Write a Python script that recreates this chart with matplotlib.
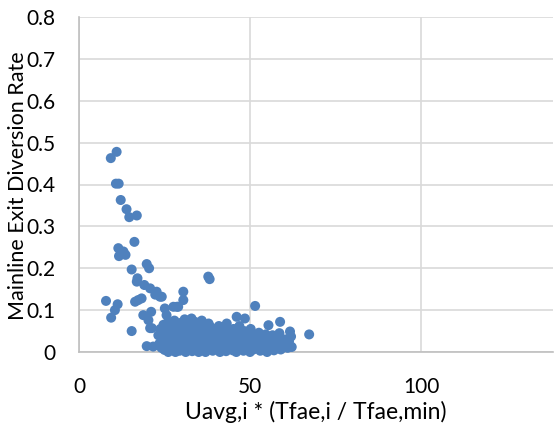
import matplotlib
matplotlib.use("Agg")
import matplotlib.pyplot as plt

# Scattered points
outlier_x = [7.9, 9.3, 11.0, 10.8, 11.6, 12.2, 13.9, 14.7, 16.9, 16.2, 11.5, 13.0, 11.7, 13.6,
             15.4, 19.8, 20.5, 17.1, 16.9, 19.1, 20.8, 22.7, 24.2, 22.3, 17.3, 16.4, 18.3, 11.3,
             10.5, 9.4, 15.4, 18.8, 21.1, 20.3, 20.8, 19.8, 21.7, 25.1, 28.6, 27.6, 30.5, 30.5,
             29.0, 23.7, 25.6, 37.8, 38.2, 51.5, 46.1, 48.5, 43.2, 58.8, 55.4, 61.7, 62.0, 67.3,
             21.3]
outlier_y = [0.122, 0.463, 0.478, 0.402, 0.402, 0.363, 0.341, 0.322, 0.326, 0.263, 0.248, 0.240,
             0.229, 0.232, 0.197, 0.210, 0.200, 0.176, 0.168, 0.160, 0.152, 0.144, 0.132, 0.137,
             0.124, 0.120, 0.128, 0.114, 0.100, 0.082, 0.050, 0.088, 0.096, 0.076, 0.057, 0.014,
             0.013, 0.104, 0.108, 0.108, 0.144, 0.124, 0.108, 0.132, 0.088, 0.180, 0.174, 0.110,
             0.084, 0.080, 0.068, 0.072, 0.064, 0.049, 0.037, 0.042, 0.057]

# Dense cluster near zero
cluster_x = [23.2, 23.5, 23.8, 24.1, 24.4, 24.7, 25.0, 25.3, 25.6, 25.9, 26.2, 26.5, 26.8, 26.1,
             27.0, 27.3, 27.6, 27.9, 28.2, 28.5, 28.8, 28.1, 29.0, 29.3, 29.6, 29.9, 29.4,
             30.1, 30.4, 30.7, 30.2, 30.9, 31.2, 31.5, 31.8, 31.1, 31.6, 32.0, 32.3, 32.6, 32.2, 32.9,
             33.1, 33.4, 33.7, 33.2, 33.9, 34.2, 34.5, 34.8, 34.3, 35.0, 35.3, 35.6, 35.2, 35.9,
             36.1, 36.4, 36.7, 36.3, 37.0, 37.3, 37.6, 37.2, 37.9, 38.2, 38.5, 38.8, 38.4,
             39.1, 39.4, 39.7, 39.2, 40.0, 40.3, 40.6, 40.9, 41.2, 41.5, 41.1, 41.8,
             42.1, 42.4, 42.7, 42.3, 43.0, 43.3, 43.6, 43.2, 44.1, 44.4, 44.7,
             45.0, 45.3, 45.6, 45.2, 46.0, 46.3, 46.6, 46.2, 46.9, 47.2, 47.5, 47.8,
             48.1, 48.4, 48.7, 48.3, 49.1, 49.4, 49.7, 50.0, 50.3, 50.6, 50.2,
             51.0, 51.3, 51.6, 52.0, 52.3, 52.6, 53.0, 53.3, 53.6, 54.0, 54.3, 54.6,
             55.0, 55.3, 55.6, 56.0, 56.3, 56.6, 57.0, 57.3, 57.6, 58.0, 58.3, 58.6,
             59.0, 59.4, 60.0, 60.4, 61.0, 61.4, 62.2]
cluster_y = [0.040, 0.020, 0.055, 0.010, 0.030, 0.065, 0.005, 0.025, 0.045, 0.070, 0.015, 0.035,
             0.060, 0.000, 0.008, 0.028, 0.050, 0.075, 0.000, 0.020, 0.040, 0.065, 0.012, 0.032,
             0.055, 0.070, 0.003, 0.005, 0.022, 0.045, 0.060, 0.078, 0.000, 0.015, 0.035, 0.050,
             0.068, 0.008, 0.025, 0.042, 0.062, 0.080, 0.002, 0.018, 0.038, 0.055, 0.072, 0.010,
             0.030, 0.048, 0.065, 0.000, 0.020, 0.040, 0.058, 0.075, 0.006, 0.026, 0.044, 0.062,
             0.000, 0.015, 0.035, 0.052, 0.068, 0.008, 0.028, 0.046, 0.060, 0.003, 0.020, 0.038,
             0.055, 0.010, 0.030, 0.045, 0.062, 0.000, 0.018, 0.036, 0.050, 0.007, 0.025, 0.042,
             0.058, 0.002, 0.020, 0.035, 0.050, 0.012, 0.030, 0.045, 0.004, 0.022, 0.040, 0.055,
             0.000, 0.015, 0.032, 0.048, 0.062, 0.008, 0.025, 0.040, 0.003, 0.018, 0.035, 0.050,
             0.010, 0.028, 0.044, 0.000, 0.020, 0.038, 0.055, 0.006, 0.024, 0.040, 0.012, 0.030,
             0.046, 0.003, 0.020, 0.035, 0.008, 0.026, 0.042, 0.000, 0.015, 0.032, 0.010, 0.025,
             0.040, 0.004, 0.020, 0.035, 0.012, 0.028, 0.045, 0.006, 0.022, 0.015, 0.030, 0.010,
             0.025, 0.012]

x_ticks = [0, 50, 100]
y_ticks = [0, 0.1, 0.2, 0.3, 0.4, 0.5, 0.6, 0.7, 0.8]
y_tick_labels = ["0", "0.1", "0.2", "0.3", "0.4", "0.5", "0.6", "0.7", "0.8"]
x_label = "Uavg,i * (Tfae,i / Tfae,min)"
y_label = "Mainline Exit Diversion Rate"

plt.rcParams['font.family'] = ['Lato', 'DejaVu Sans']

W, H = 554, 428
fig = plt.figure(figsize=(W / 100, H / 100), dpi=100)
ax = fig.add_axes([79 / W, (H - 352) / H, (553 - 79) / W, (352 - 17) / H])

color = "#4F81BD"
ax.scatter(outlier_x + cluster_x, outlier_y + cluster_y, s=52, color=color,
           edgecolors="none", zorder=3, clip_on=False)

ax.set_xlim(0, 138.6)
ax.set_ylim(0, 0.8)
ax.set_xticks(x_ticks)
ax.set_yticks(y_ticks)
ax.set_yticklabels(y_tick_labels)
ax.grid(True, color="#D9D9D9", linewidth=1.2, zorder=0)
ax.set_axisbelow(True)
for s in ["top", "right"]:
    ax.spines[s].set_visible(False)
for s in ["left", "bottom"]:
    ax.spines[s].set_color("#BFBFBF")
    ax.spines[s].set_linewidth(1.2)
ax.tick_params(length=0, labelsize=15, colors="#000000", pad=17)
ax.tick_params(axis='x', pad=18)

fig.text((79 + 553) / 2 / W, 1 - 412 / H, x_label, ha="center", va="center", fontsize=16.5)
fig.text(18 / W, 1 - 186 / H, y_label, ha="center", va="center", rotation=90, fontsize=15.5)

fig.savefig("out.png", dpi=100)
